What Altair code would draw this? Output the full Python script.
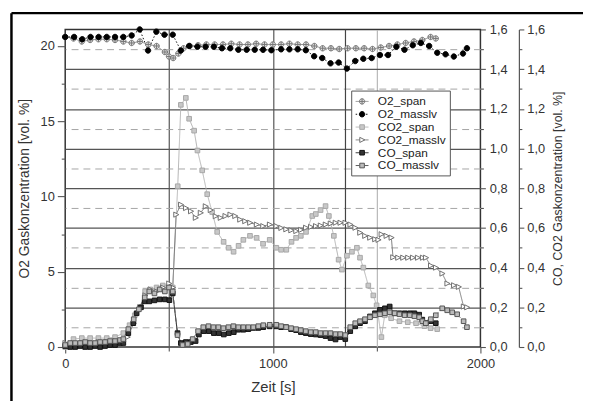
import altair as alt
import pandas as pd

SERIES = ["O2_span", "O2_masslv", "CO2_span", "CO2_masslv", "CO_span", "CO_masslv"]
LEFT_SERIES = ["O2_span", "O2_masslv"]

t_o2_span = [0, 40, 80, 120, 160, 200, 240, 280, 320, 360, 400, 440, 480, 500, 520, 545, 570, 600,
             640, 680, 720, 760, 800, 840, 880, 920, 960, 1000, 1040, 1080, 1120, 1160, 1200, 1240,
             1280, 1320, 1360, 1400, 1440, 1480, 1520, 1560, 1600, 1640, 1680, 1720, 1760, 1785]
v_o2_span = [20.6, 20.5, 20.3, 20.4, 20.45, 20.45, 20.4, 20.3, 20.2, 20.3, 20.1, 20.0, 19.6, 19.3,
             19.2, 19.5, 19.85, 20.0, 20.05, 20.1, 20.1, 20.1, 20.15, 20.1, 20.1, 20.15, 20.1, 20.1,
             20.1, 20.15, 20.1, 20.1, 20.0, 19.85, 19.85, 19.8, 19.85, 19.85, 19.85, 19.8, 19.9, 20.0,
             20.1, 20.2, 20.3, 20.4, 20.6, 20.5]

t_o2_masslv = [0, 43, 82, 122, 161, 200, 240, 280, 320, 359, 399, 439, 478, 518, 557, 597, 637, 676,
               716, 755, 795, 834, 874, 913, 953, 993, 1040, 1080, 1120, 1159, 1199, 1238, 1278, 1317,
               1357, 1397, 1436, 1476, 1516, 1555, 1595, 1634, 1674, 1713, 1753, 1792, 1832, 1872,
               1916, 1935]
v_o2_masslv = [20.6, 20.6, 20.45, 20.6, 20.6, 20.6, 20.6, 20.6, 20.7, 21.1, 19.7, 20.95, 20.75, 20.75,
               19.7, 20.0, 19.95, 19.95, 19.95, 19.85, 19.85, 19.75, 19.75, 19.75, 19.75, 19.72, 19.78,
               19.78, 19.78, 19.72, 19.32, 19.2, 18.85, 18.9, 18.5, 19.0, 19.15, 19.2, 19.4, 19.4,
               19.95, 19.75, 20.05, 20.2, 20.0, 19.55, 19.45, 19.3, 19.5, 19.85]

t_co2_span = [0, 40, 80, 120, 160, 200, 240, 280, 310, 335, 360, 385, 410, 440, 470, 490, 518, 542,
              557, 581, 597, 621, 637, 660, 684, 708, 732, 763, 787, 811, 835, 858, 890, 922, 953, 985,
              1017, 1040, 1065, 1090, 1112, 1135, 1160, 1190, 1207, 1230, 1254, 1270, 1294, 1317,
              1333, 1357, 1381, 1405, 1420, 1436, 1460, 1484, 1500, 1523, 1539, 1570, 1610, 1650,
              1690, 1730, 1760, 1792]
v_co2_span = [0.0, 0.04, 0.045, 0.045, 0.045, 0.045, 0.05, 0.07, 0.11, 0.16, 0.2, 0.28, 0.29, 0.3,
              0.31, 0.3, 0.3, 0.81, 1.22, 1.255, 1.15, 1.09, 0.99, 0.89, 0.77, 0.68, 0.58, 0.53, 0.5,
              0.48, 0.51, 0.54, 0.56, 0.55, 0.52, 0.54, 0.5, 0.49, 0.49, 0.53, 0.55, 0.56, 0.58, 0.66,
              0.67, 0.69, 0.71, 0.66, 0.56, 0.44, 0.39, 0.46, 0.48, 0.5, 0.45, 0.4, 0.31, 0.26, 0.21,
              0.05, 0.16, 0.145, 0.13, 0.125, 0.12, 0.105, 0.095, 0.09]

t_co2_masslv = [0, 40, 80, 120, 160, 200, 240, 280, 300, 330, 360, 385, 410, 440, 470, 500, 518, 534,
                557, 581, 605, 628, 652, 676, 700, 724, 748, 771, 795, 818, 842, 866, 890, 922, 953,
                985, 1017, 1040, 1064, 1088, 1112, 1135, 1159, 1183, 1207, 1230, 1254, 1278, 1302,
                1325, 1349, 1373, 1397, 1420, 1444, 1468, 1492, 1508, 1523, 1547, 1571, 1579, 1603,
                1627, 1651, 1674, 1698, 1722, 1737, 1761, 1785, 1816, 1840, 1872, 1895, 1919, 1935]
v_co2_masslv = [0.02, 0.02, 0.02, 0.02, 0.025, 0.025, 0.03, 0.03, 0.05, 0.12, 0.2, 0.26, 0.29, 0.28,
                0.3, 0.32, 0.3, 0.667, 0.717, 0.70, 0.684, 0.651, 0.676, 0.709, 0.69, 0.659, 0.651,
                0.66, 0.667, 0.66, 0.642, 0.634, 0.626, 0.617, 0.609, 0.617, 0.609, 0.6, 0.593, 0.588,
                0.584, 0.59, 0.601, 0.605, 0.609, 0.612, 0.617, 0.622, 0.626, 0.626, 0.626, 0.617,
                0.601, 0.576, 0.56, 0.551, 0.543, 0.54, 0.568, 0.56, 0.551, 0.452, 0.45, 0.45, 0.45,
                0.45, 0.45, 0.45, 0.45, 0.41, 0.40, 0.37, 0.32, 0.311, 0.303, 0.204, 0.2]

t_co_span = [0, 24, 48, 72, 96, 120, 144, 168, 192, 216, 240, 264, 280, 304, 328, 344, 365, 383, 405,
             430, 455, 480, 502, 518, 541, 557, 581, 605, 628, 644, 668, 692, 716, 740, 764, 788, 812,
             834, 858, 882, 906, 930, 954, 985, 1017, 1040, 1064, 1088, 1112, 1135, 1159, 1183, 1207,
             1230, 1254, 1278, 1302, 1325, 1349, 1373, 1397, 1420, 1444, 1468, 1492, 1516, 1540,
             1563, 1587, 1610, 1635, 1660, 1682, 1705, 1720, 1737, 1760, 1785]
v_co_span = [0.005, 0.0, 0.0, 0.005, 0.0, 0.0, 0.005, 0.0, 0.005, 0.01, 0.01, 0.02, 0.02, 0.07, 0.12,
             0.17, 0.2, 0.23, 0.23, 0.235, 0.24, 0.24, 0.236, 0.27, 0.07, 0.02, 0.025, 0.025, 0.03,
             0.063, 0.08, 0.08, 0.07, 0.07, 0.063, 0.07, 0.075, 0.087, 0.087, 0.09, 0.096, 0.096, 0.1,
             0.104, 0.104, 0.1, 0.1, 0.09, 0.085, 0.075, 0.07, 0.065, 0.063, 0.06, 0.055, 0.045,
             0.038, 0.05, 0.04, 0.08, 0.104, 0.12, 0.13, 0.154, 0.17, 0.187, 0.195, 0.204, 0.17, 0.17,
             0.17, 0.17, 0.17, 0.163, 0.138, 0.121, 0.13, 0.12]

t_co_masslv = [0, 24, 48, 72, 96, 120, 144, 168, 192, 216, 240, 264, 280, 304, 330, 355, 383, 405,
               430, 455, 480, 500, 518, 541, 565, 590, 614, 640, 665, 690, 714, 738, 762, 786, 810,
               834, 858, 882, 906, 930, 954, 985, 1017, 1040, 1064, 1088, 1112, 1135, 1159, 1183,
               1207, 1230, 1254, 1278, 1302, 1325, 1349, 1373, 1397, 1420, 1444, 1468, 1492, 1516,
               1540, 1563, 1587, 1610, 1635, 1660, 1682, 1705, 1720, 1737, 1761, 1785, 1816, 1840,
               1864, 1888, 1919, 1935]
v_co_masslv = [0.01, 0.02, 0.02, 0.02, 0.025, 0.02, 0.02, 0.025, 0.025, 0.03, 0.03, 0.035, 0.04, 0.09,
               0.14, 0.19, 0.25, 0.28, 0.27, 0.29, 0.28, 0.3, 0.28, 0.06, 0.01, 0.015, 0.04, 0.08, 0.1,
               0.105, 0.1, 0.1, 0.095, 0.1, 0.105, 0.1, 0.1, 0.1, 0.1, 0.105, 0.11, 0.112, 0.112,
               0.105, 0.1, 0.095, 0.09, 0.085, 0.08, 0.075, 0.075, 0.07, 0.07, 0.07, 0.065, 0.065,
               0.06, 0.1, 0.12, 0.13, 0.14, 0.15, 0.16, 0.165, 0.17, 0.175, 0.17, 0.165, 0.16, 0.16,
               0.155, 0.15, 0.13, 0.12, 0.14, 0.16, 0.195, 0.185, 0.175, 0.165, 0.13, 0.1]

event_times = [1350]

x_ticks = [0, 500, 1000, 1500, 2000]
left_ticks = [0, 2.5, 5, 7.5, 10, 12.5, 15, 17.5, 20]
right_ticks = [0.0, 0.1, 0.2, 0.3, 0.4, 0.5, 0.6, 0.7, 0.8, 0.9, 1.0, 1.1, 1.2, 1.3, 1.4, 1.5, 1.6]

# styles
LINE_COLORS = ["#8a8a8a", "#111111", "#b3b3b3", "#7a7a7a", "#1a1a1a", "#5a5a5a"]
LINE_DASHES = [[1, 0], [1.5, 2], [1, 0], [1, 0], [1, 0], [4, 2, 1, 2]]
MK_KEYS = ["m_" + s for s in SERIES]
MK_STROKE = ["#777777", "#000000", "#a8a8a8", "#707070", "#111111", "#555555"]
MK_FILL = ["#dddddd", "#000000", "#c8c8c8", "#ffffff", "#333333", "#bbbbbb"]
P_CIRCLE = "M-0.42,0A0.42,0.42,0,1,1,0.42,0A0.42,0.42,0,1,1,-0.42,0Z"
P_CROSS_CIRCLE = P_CIRCLE + "M-0.42,0L0.42,0M0,-0.42L0,0.42"
P_SQUARE = "M-0.36,-0.36H0.36V0.36H-0.36Z"
P_TRI_RIGHT = "M-0.36,-0.4L0.44,0L-0.36,0.4Z"
MK_SHAPES = [P_CROSS_CIRCLE, P_CIRCLE, P_SQUARE, P_TRI_RIGHT, P_SQUARE, P_SQUARE]
SYM_SIZE = 169

series_data = [
    ("O2_span", t_o2_span, v_o2_span),
    ("O2_masslv", t_o2_masslv, v_o2_masslv),
    ("CO2_span", t_co2_span, v_co2_span),
    ("CO2_masslv", t_co2_masslv, v_co2_masslv),
    ("CO_span", t_co_span, v_co_span),
    ("CO_masslv", t_co_masslv, v_co_masslv),
]
rows = []
for name, ts, vs in series_data:
    for t, v in zip(ts, vs):
        rows.append({"t": t, "v": v, "series": name, "mk": "m_" + name,
                     "side": "L" if name in LEFT_SERIES else "R"})
df = pd.DataFrame(rows)
ev = pd.DataFrame({"t": event_times})

FONT = "Liberation Sans"

x_enc = alt.X(
    "t:Q",
    scale=alt.Scale(domain=[0, 2000], nice=False, zero=False),
    axis=alt.Axis(
        values=x_ticks, format="d", title="Zeit [s]", labelFlush=False,
        titleFontSize=15,
        labelExpr="datum.value % 1000 == 0 ? datum.label : ''",
        tickSize={"condition": {"test": "datum.value % 1000 == 0", "value": 6}, "value": 4},
        grid=True,
        gridColor={"condition": {"test": "datum.value == 1500", "value": "#b8b8b8"}, "value": "#555555"},
        gridOpacity={"condition": {"test": "datum.value == 0 || datum.value == 2000", "value": 0}, "value": 1},
        gridWidth=1.2, domain=False, labelPadding=5, titlePadding=9,
    ),
)

y_left = alt.Y(
    "v:Q",
    scale=alt.Scale(domain=[0, 21.1], nice=False, zero=False),
    axis=alt.Axis(
        orient="left", values=left_ticks, grid=False, domain=False, labelFlush=False,
        title="O2 Gaskonzentration [vol. %]", titleFontSize=14,
        labelExpr="datum.value % 5 == 0 ? format(datum.value, 'd') : ''",
        tickSize={"condition": {"test": "datum.value % 5 == 0", "value": 8}, "value": 4},
        labelPadding=3, titlePadding=9,
    ),
)

right_label_expr = "round(datum.value * 10) % 2 == 0 ? replace(format(datum.value, '.1f'), '.', ',') : ''"
right_tick_size = {"condition": {"test": "round(datum.value * 10) % 2 == 0", "value": 5}, "value": 3}

y_right = alt.Y(
    "v:Q",
    scale=alt.Scale(domain=[0, 1.6], nice=False, zero=False),
    axis=alt.Axis(
        orient="right", values=right_ticks, title=None, domain=False, labelFlush=False,
        labelExpr=right_label_expr, tickSize=right_tick_size, labelPadding=4,
        grid=True,
        gridColor={"condition": {"test": "round(datum.value * 10) % 2 == 0", "value": "#555555"}, "value": "#a5a5a5"},
        gridDash={"condition": {"test": "round(datum.value * 10) % 2 == 0", "value": []}, "value": [7, 5]},
        gridWidth={"condition": {"test": "round(datum.value * 10) % 2 == 0", "value": 1.3}, "value": 1},
        gridOpacity={"condition": {"test": "datum.value < 0.05 || datum.value > 1.55", "value": 0}, "value": 1},
    ),
)

y_right2 = alt.Y(
    "v:Q",
    scale=alt.Scale(domain=[0, 1.6], nice=False, zero=False),
    axis=alt.Axis(
        orient="right", offset=39, values=right_ticks, grid=False, domain=True, labelFlush=False,
        domainColor="#555555", domainWidth=1.2,
        title="CO, CO2 Gaskonzentration [vol. %]", titleAngle=270, titleBaseline="top",
        titleFontSize=12.5, titlePadding=7,
        labelExpr=right_label_expr, tickSize=right_tick_size, labelPadding=3,
    ),
)

LEG_A = alt.Legend(
    orient="none", legendX=290, legendY=62, title=None, symbolType="stroke",
    symbolSize=SYM_SIZE, symbolStrokeWidth=1, labelFont=FONT, labelFontSize=12,
    labelColor="#222222", labelOffset=9, rowPadding=0, padding=4,
    strokeColor="#555555", fillColor="white", zindex=1,
)
LEG_B = alt.Legend(
    orient="none", legendX=290, legendY=62, title=None, symbolSize=SYM_SIZE,
    symbolStrokeWidth=1, labelExpr="''", labelFont=FONT, labelFontSize=12,
    labelOffset=9, rowPadding=0, padding=4, zindex=2,
)

stroke_enc = alt.Stroke("series:N", scale=alt.Scale(domain=SERIES, range=LINE_COLORS), legend=LEG_A)
dash_enc = alt.StrokeDash("series:N", scale=alt.Scale(domain=SERIES, range=LINE_DASHES), legend=LEG_A)
color_enc = alt.Color("mk:N", scale=alt.Scale(domain=MK_KEYS, range=MK_STROKE), legend=LEG_B)
fill_enc = alt.Fill("mk:N", scale=alt.Scale(domain=MK_KEYS, range=MK_FILL), legend=LEG_B)
shape_enc = alt.Shape("mk:N", scale=alt.Scale(domain=MK_KEYS, range=MK_SHAPES), legend=LEG_B)

base = alt.Chart(df)

left_lines = base.transform_filter(alt.datum.side == "L").mark_line(strokeWidth=1).encode(
    x=x_enc, y=y_left, stroke=stroke_enc, strokeDash=dash_enc)
left_pts = base.transform_filter(alt.datum.side == "L").mark_point(
    filled=False, opacity=1, size=SYM_SIZE, strokeWidth=1).encode(
    x=x_enc, y=y_left, color=color_enc, fill=fill_enc, shape=shape_enc)
left = alt.layer(left_lines, left_pts)

right_lines = base.transform_filter(alt.datum.side == "R").mark_line(strokeWidth=1).encode(
    x=x_enc, y=y_right, stroke=stroke_enc, strokeDash=dash_enc)
right_pts = base.transform_filter(alt.datum.side == "R").mark_point(
    filled=False, opacity=1, size=SYM_SIZE, strokeWidth=1).encode(
    x=x_enc, y=y_right, color=color_enc, fill=fill_enc, shape=shape_enc)
right = alt.layer(right_lines, right_pts)

right_axis2 = base.transform_filter(alt.datum.side == "R").mark_line(opacity=0).encode(
    x=x_enc, y=y_right2)

events = alt.Chart(ev).mark_rule(color="#444444", strokeWidth=1.2).encode(x=x_enc)

frame_df = pd.DataFrame({"k": [0]})
frame_left = alt.Chart(frame_df).mark_rule(color="#000000", strokeWidth=2.5).encode(
    x=alt.value(-54.5), y=alt.value(-16.5), y2=alt.value(400))
frame_top = alt.Chart(frame_df).mark_rule(color="#000000", strokeWidth=2.2).encode(
    x=alt.value(-54.5), x2=alt.value(600), y=alt.value(-16.5))

chart = alt.layer(
    events, left, right, right_axis2, frame_left, frame_top
).resolve_scale(y="independent").properties(
    width=421, height=322,
    padding={"left": 58, "top": 19, "right": 104, "bottom": 52},
    autosize=alt.AutoSizeParams(type="none"),
    background="white",
).configure_view(
    stroke="#333333", strokeWidth=1.5
).configure_axis(
    labelFont=FONT, titleFont=FONT, labelFontSize=13, titleFontSize=13.5,
    labelColor="#333333", titleColor="#333333", tickColor="#555555",
    titleFontWeight="normal", tickWidth=1.1,
)

chart.save("out.html", embed_options={"renderer": "svg", "actions": False})
